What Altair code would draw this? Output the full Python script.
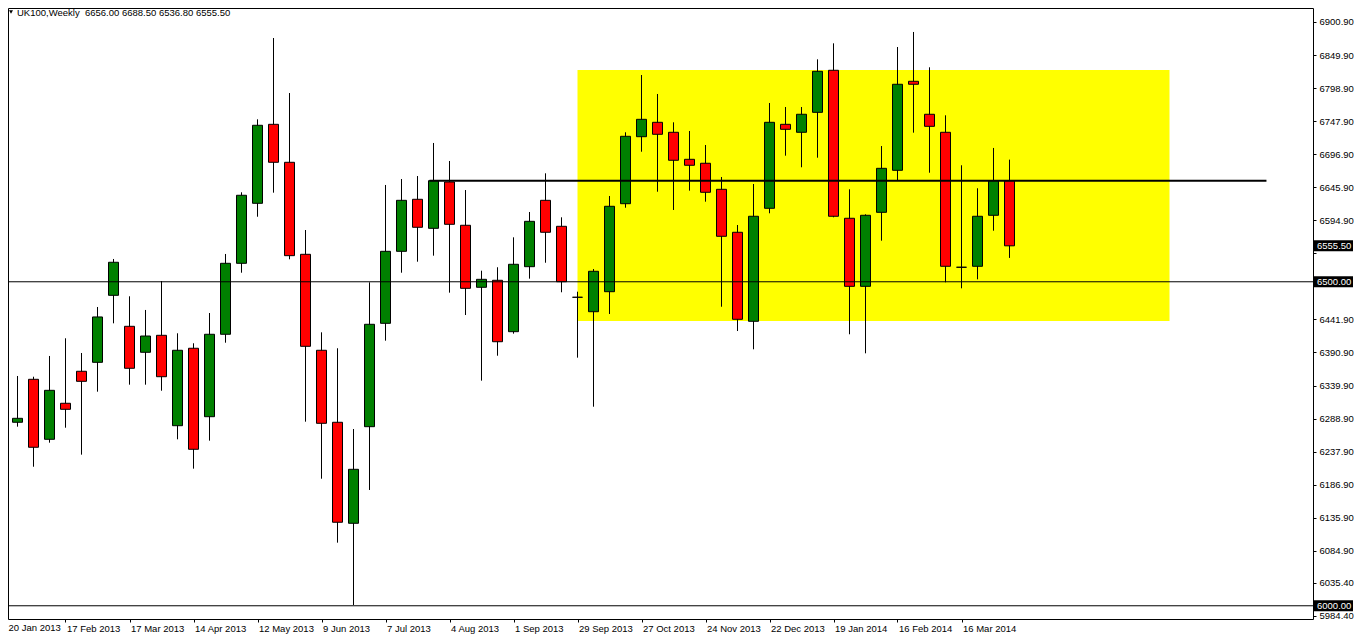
import json
import numpy as np
import pandas as pd
import altair as alt

# ---- weekly UK100 candles (week 0 = 20 Jan 2013) ----
opens = [6167.4, 6283.2, 6349.5, 6256.9, 6312.5, 6361.9, 6375.7, 6479.1, 6431.3, 6391.2,
         6417.4, 6277.9, 6397.4, 6291.8, 6419.0, 6528.5, 6621.1, 6743.0, 6684.4, 6542.4,
         6394.3, 6283.2, 6127.3, 6276.4, 6435.9, 6547.0, 6627.3, 6582.5, 6654.0, 6587.2,
         6491.5, 6502.3, 6423.0, 6523.3, 6625.7, 6585.6, 6476.1, 6453.8, 6484.7, 6620.5,
         6723.9, 6746.1, 6730.7, 6689.0, 6682.9, 6642.7, 6576.4, 6439.0, 6613.4, 6743.0,
         6730.7, 6761.5, 6826.4, 6598.0, 6493.0, 6607.2, 6672.0, 6809.4, 6758.5, 6730.7,
         6522.4, 6523.9, 6602.6, 6656.0]
highs = [6272.8, 6354.6, 6353.5, 6385.5, 6412.8, 6390.1, 6461.1, 6535.2, 6477.6, 6456.5,
         6501.2, 6420.5, 6405.1, 6451.8, 6542.9, 6638.1, 6750.7, 6876.2, 6791.3, 6579.9,
         6422.0, 6397.4, 6272.8, 6499.2, 6649.4, 6658.6, 6663.2, 6714.2, 6686.4, 6641.6,
         6517.1, 6522.4, 6568.6, 6607.7, 6667.4, 6599.5, 6484.7, 6519.7, 6632.4, 6730.7,
         6819.1, 6789.8, 6746.1, 6732.7, 6711.1, 6661.7, 6587.6, 6650.9, 6775.9, 6769.7,
         6769.7, 6843.3, 6868.0, 6642.7, 6604.1, 6709.5, 6862.3, 6885.5, 6831.0, 6756.9,
         6679.8, 6644.3, 6706.5, 6688.5]
lows = [6146.7, 6276.4, 6214.6, 6251.7, 6274.8, 6233.2, 6330.4, 6435.9, 6341.2, 6341.2,
        6331.9, 6256.9, 6211.6, 6254.8, 6406.0, 6514.0, 6600.4, 6637.5, 6534.7, 6284.1,
        6196.1, 6097.4, 6001.2, 6178.7, 6409.1, 6514.0, 6531.0, 6540.3, 6483.2, 6448.7,
        6347.4, 6385.9, 6419.9, 6504.8, 6529.4, 6483.8, 6382.9, 6307.2, 6450.3, 6614.3,
        6700.7, 6639.0, 6610.8, 6640.6, 6623.6, 6461.5, 6424.0, 6395.8, 6605.7, 6694.6,
        6676.7, 6691.5, 6599.5, 6419.0, 6389.6, 6563.4, 6656.6, 6730.1, 6668.3, 6499.2,
        6489.9, 6503.8, 6578.8, 6536.8]
closes = [6243.0, 6289.3, 6244.6, 6332.5, 6303.2, 6346.4, 6445.7, 6530.1, 6366.5, 6416.3,
          6353.5, 6394.3, 6241.5, 6419.0, 6528.5, 6633.5, 6741.5, 6684.4, 6540.3, 6400.4,
          6281.6, 6128.9, 6210.6, 6434.4, 6547.0, 6625.7, 6584.1, 6656.0, 6588.7, 6489.9,
          6503.8, 6407.5, 6527.0, 6593.3, 6576.4, 6500.1, 6476.1, 6516.2, 6616.5, 6724.5,
          6750.7, 6727.6, 6687.5, 6679.8, 6638.1, 6570.2, 6442.1, 6601.1, 6746.1, 6735.3,
          6758.5, 6824.8, 6601.1, 6493.0, 6602.6, 6675.1, 6804.8, 6804.8, 6739.9, 6523.9,
          6522.4, 6601.1, 6656.0, 6555.5]

tick_weeks = [0, 4, 8, 12, 16, 20, 24, 28, 32, 36, 40, 44, 48, 52, 56, 60]
tick_labels = ["20 Jan 2013", "17 Feb 2013", "17 Mar 2013", "14 Apr 2013", "12 May 2013",
               "9 Jun 2013", "7 Jul 2013", "4 Aug 2013", "1 Sep 2013", "29 Sep 2013",
               "27 Oct 2013", "24 Nov 2013", "22 Dec 2013", "19 Jan 2014", "16 Feb 2014",
               "16 Mar 2014"]
price_ticks = [6900.9, 6849.9, 6798.9, 6747.9, 6696.9, 6645.9, 6594.9, 6543.9, 6492.9,
               6441.9, 6390.9, 6339.9, 6288.9, 6237.9, 6186.9, 6135.9, 6084.9, 6035.4, 5984.4]
hidden_ticks = [6543.9, 6492.9]   # covered by the price tags in the reference

# drawing objects
zone_weeks = [36, 73]
zone_prices = [6439.5, 6826.8]
resistance_weeks = [26.75, 79.06]
resistance_price = 6656.0
level_lines = [6500.0, 6000.0]
price_tags = [6555.5, 6500.0, 6000.0]
title_text = "UK100,Weekly\u00a0\u00a06656.00 6688.50 6536.80 6555.50"

FONT = "Liberation Sans, Arial, sans-serif"
FS = 9.5
W, H = 1305, 611

df = pd.DataFrame({"week": list(range(len(opens))), "open": opens, "high": highs,
                   "low": lows, "close": closes})
df["dir"] = np.where(df["close"] > df["open"], "up",
                     np.where(df["close"] < df["open"], "down", "flat"))

x_scale = alt.Scale(domain=[0.40625, 81.96875], nice=False, zero=False, padding=0)
y_scale = alt.Scale(domain=[5979.6, 6922.5], nice=False, zero=False, padding=0)

hidden_test = " || ".join(f"abs(datum.value - {v}) < 0.01" for v in hidden_ticks)

x_axis = alt.Axis(values=tick_weeks[1:], labelExpr=f"{json.dumps(tick_labels)}[datum.value/4]",
                  title=None, grid=False, domain=False, tickSize=3, tickColor="black",
                  labelAlign="left", labelBaseline="top", labelPadding=1, labelOffset=1,
                  labelOverlap=False, labelFlush=False, labelBound=False,
                  labelFont=FONT, labelFontSize=FS, labelColor="black")
y_axis = alt.Axis(values=price_ticks, orient="right",
                  labelExpr=f"({hidden_test}) ? '' : format(datum.value, '.2f')",
                  title=None, grid=False, domain=False, tickSize=3, tickColor="black",
                  labelPadding=3, labelOverlap=False, labelFlush=False, labelBound=False,
                  labelFont=FONT, labelFontSize=FS, labelColor="black")

zone_df = pd.DataFrame({"x1": [zone_weeks[0]], "x2": [zone_weeks[1]],
                        "y1": [zone_prices[0]], "y2": [zone_prices[1]]})
zone = alt.Chart(zone_df).mark_rect(color="#ffff00", clip=True).encode(
    x=alt.X("x1:Q", scale=x_scale, axis=x_axis), x2="x2:Q",
    y=alt.Y("y1:Q", scale=y_scale, axis=y_axis), y2="y2:Q",
)

base = alt.Chart(df)
wicks = base.mark_rule(color="black", strokeWidth=1, clip=True).encode(
    x=alt.X("week:Q", scale=x_scale, axis=x_axis),
    y=alt.Y("low:Q", scale=y_scale, axis=y_axis),
    y2="high:Q",
)
bodies = base.mark_bar(size=10, stroke="black", strokeWidth=1, clip=True).encode(
    x=alt.X("week:Q", scale=x_scale, axis=x_axis),
    y=alt.Y("open:Q", scale=y_scale, axis=y_axis),
    y2="close:Q",
    color=alt.Color("dir:N", legend=None,
                    scale=alt.Scale(domain=["up", "down", "flat"],
                                    range=["#008000", "#ff0000", "#008000"])),
)

res_df = pd.DataFrame({"x1": [resistance_weeks[0]], "x2": [resistance_weeks[1]],
                       "y": [resistance_price]})
resistance = alt.Chart(res_df).mark_rule(color="black", strokeWidth=2, clip=True).encode(
    x=alt.X("x1:Q", scale=x_scale, axis=x_axis), x2="x2:Q",
    y=alt.Y("y:Q", scale=y_scale, axis=y_axis),
)

lvl_df = pd.DataFrame({"y": level_lines})
levels = alt.Chart(lvl_df).mark_rule(color="black", strokeWidth=1, clip=True).encode(
    y=alt.Y("y:Q", scale=y_scale, axis=y_axis),
)

# first date label (its tick lies just left of the visible window)
first_df = pd.DataFrame({"week": [tick_weeks[0]], "label": [tick_labels[0]]})
first_label = alt.Chart(first_df).mark_text(align="left", baseline="top", color="black",
                                            font=FONT, fontSize=FS, dx=7, clip=False).encode(
    x=alt.X("week:Q", scale=x_scale, axis=x_axis),
    y=alt.value(H + 4),
    text="label:N",
)

tag_df = pd.DataFrame({"price": price_tags})
tag_box = alt.Chart(tag_df).transform_calculate(
    top="datum.price + 8.5", bot="datum.price - 8.5"
).mark_rect(color="black", clip=False).encode(
    x=alt.value(W + 1), x2=alt.value(W + 40),
    y=alt.Y("top:Q", scale=y_scale, axis=y_axis), y2="bot:Q",
)
tag_text = alt.Chart(tag_df).mark_text(align="left", baseline="middle", color="white",
                                       font=FONT, fontSize=FS, clip=False).encode(
    x=alt.value(W + 4),
    y=alt.Y("price:Q", scale=y_scale, axis=y_axis),
    text=alt.Text("price:Q", format=".2f"),
)

title_df = pd.DataFrame({"t": [title_text]})
title = alt.Chart(title_df).mark_text(align="left", baseline="top", color="black",
                                      font=FONT, fontSize=FS).encode(
    x=alt.value(9), y=alt.value(0), text="t:N",
)
tri = alt.Chart(title_df).mark_point(shape="triangle-down", filled=True, color="black",
                                     size=16, opacity=1).encode(
    x=alt.value(3), y=alt.value(4),
)

chart = alt.layer(
    zone, wicks, bodies, resistance, levels, first_label, tag_box, tag_text, title, tri
).properties(
    width=W, height=H, background="white",
    autosize=alt.AutoSizeParams(type="none"),
    padding={"left": 0, "top": 0, "right": 41, "bottom": 22},
).configure_view(
    stroke="black", strokeWidth=1
)

chart.save("out.html", embed_options={"renderer": "svg", "actions": False})
